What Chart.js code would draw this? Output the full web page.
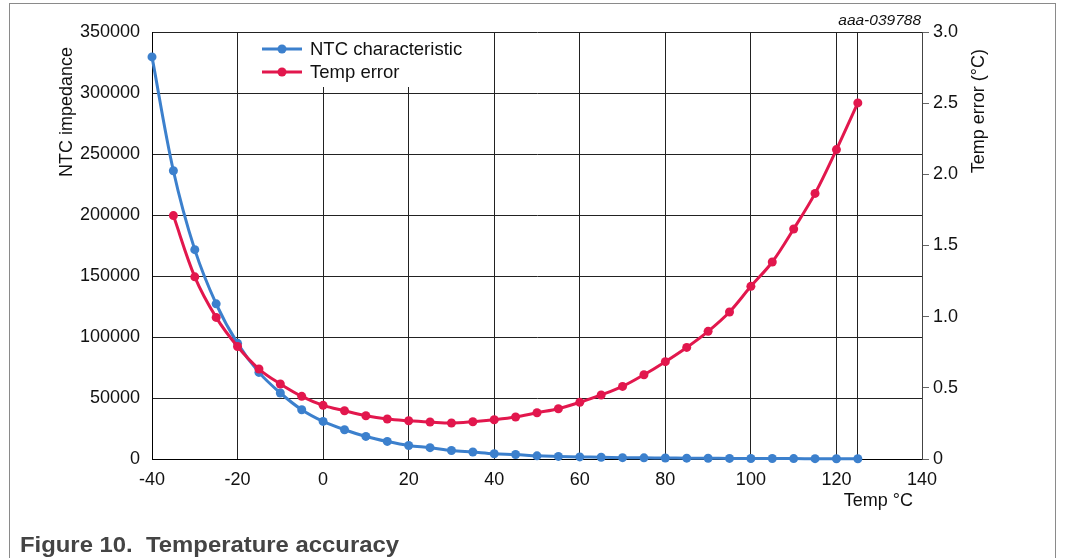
<!DOCTYPE html>
<html>
<head>
<meta charset="utf-8">
<script src="https://cdn.jsdelivr.net/npm/chart.js@4/dist/chart.umd.min.js"></script>
<style>
html,body{margin:0;padding:0;background:#fff;}
#wrap{position:relative;width:1066px;height:558px;overflow:hidden;background:#fff;}
#frame{position:absolute;left:9px;top:3px;width:1047px;height:620px;border:1px solid #8a8a8a;box-sizing:border-box;}
canvas{position:absolute;left:0;top:0;}
#cap{position:absolute;left:20px;top:534px;font:bold 22px "Liberation Sans",Arial,sans-serif;line-height:22px;color:#444;white-space:pre;transform:scaleX(1.085);transform-origin:left top;}
</style>
</head>
<body>
<div id="wrap">
<div id="frame"></div>
<canvas id="c" width="1066" height="558"></canvas>
<div id="cap">Figure 10.  Temperature accuracy</div>
</div>
<script>
// ---- data ----
const temps = [-40,-35,-30,-25,-20,-15,-10,-5,0,5,10,15,20,25,30,35,40,45,50,55,60,65,70,75,80,85,90,95,100,105,110,115,120,125];
const ntcImpedance = [329600,236300,171600,127200,94800,71000,54100,40400,30800,24000,18500,14400,11100,9300,7000,5700,4300,3700,2600,2100,1700,1400,1100,950,800,680,580,500,430,370,320,280,250,220];
const tempError = [null,1.71,1.28,0.995,0.79,0.632,0.527,0.44,0.377,0.339,0.304,0.281,0.269,0.26,0.253,0.262,0.276,0.295,0.325,0.353,0.398,0.45,0.51,0.592,0.684,0.784,0.897,1.033,1.213,1.384,1.616,1.866,2.174,2.502];
const tempTicks = [-40,-20,0,20,40,60,80,100,120,140];
const impedanceTicks = [0,50000,100000,150000,200000,250000,300000,350000];
const errorTicks = ['0','0.5','1.0','1.5','2.0','2.5','3.0'];
const seriesNames = ['NTC characteristic','Temp error'];
const axisTitles = {x:'Temp °C', y:'NTC impedance', y2:'Temp error (°C)'};
const docId = 'aaa-039788';

const FONT = '"Liberation Sans", Arial, sans-serif';
Chart.defaults.font.family = FONT;
Chart.defaults.color = '#111';

const BLUE = '#3c80cd';
const RED = '#e2174d';
const GRID = '#222';

const decor = {
  id: 'decor',
  afterDraw(chart) {
    const {ctx, chartArea: a} = chart;
    ctx.save();
    // legend box
    const lx = a.left + 98, ly = a.top + 1, lw = 225, lh = 54;
    ctx.fillStyle = '#fff';
    ctx.fillRect(lx, ly, lw, lh);
    chart.data.datasets.forEach((ds, i) => {
      const y = a.top + 17 + i * 23;
      ctx.strokeStyle = ds.borderColor;
      ctx.lineWidth = 3;
      ctx.beginPath(); ctx.moveTo(lx + 12, y); ctx.lineTo(lx + 52, y); ctx.stroke();
      ctx.fillStyle = ds.borderColor;
      ctx.beginPath(); ctx.arc(lx + 32, y, 4.5, 0, Math.PI * 2); ctx.fill();
      ctx.fillStyle = '#111';
      ctx.font = '18.5px ' + FONT;
      ctx.textAlign = 'left'; ctx.textBaseline = 'middle';
      ctx.fillText(ds.label, lx + 60, y + 1);
    });
    ctx.fillStyle = '#111';
    ctx.font = '18px ' + FONT;
    ctx.textBaseline = 'middle';
    // left title
    ctx.save();
    ctx.translate(a.left - 85, a.top + 15);
    ctx.rotate(-Math.PI / 2);
    ctx.textAlign = 'right';
    ctx.fillText(axisTitles.y, 0, 0);
    ctx.restore();
    // right title
    ctx.save();
    ctx.translate(a.right + 57, a.top + 17);
    ctx.rotate(-Math.PI / 2);
    ctx.textAlign = 'right';
    ctx.fillText(axisTitles.y2, 0, 0);
    ctx.restore();
    // x title
    ctx.textAlign = 'right';
    ctx.fillText(axisTitles.x, a.right - 9, a.bottom + 42);
    // doc id
    ctx.font = 'italic 15.5px ' + FONT;
    ctx.fillText(docId, a.right - 1, a.top - 11);
    ctx.restore();
  }
};

new Chart(document.getElementById('c'), {
  type: 'line',
  data: {
    datasets: [
      {
        label: seriesNames[0],
        data: temps.map((t, i) => ({x: t, y: ntcImpedance[i]})),
        yAxisID: 'y',
        borderColor: BLUE, backgroundColor: BLUE,
        pointBackgroundColor: BLUE, pointBorderWidth: 0,
        borderWidth: 3, pointRadius: 4.5, tension: 0.35, clip: false, order: 2
      },
      {
        label: seriesNames[1],
        data: temps.map((t, i) => ({x: t, y: tempError[i]})),
        yAxisID: 'y2',
        borderColor: RED, backgroundColor: RED,
        pointBackgroundColor: RED, pointBorderWidth: 0,
        borderWidth: 3, pointRadius: 4.5, tension: 0.35, clip: false, order: 1
      }
    ]
  },
  options: {
    responsive: false,
    animation: false,
    devicePixelRatio: 1,
    layout: {padding: {top: 32, left: 0, right: 0, bottom: 0}},
    plugins: {legend: {display: false}, tooltip: {enabled: false}},
    scales: {
      x: {
        type: 'linear', min: -40, max: 140,
        afterBuildTicks: (s) => {
          const vals = tempTicks.concat([temps[temps.length - 1]]).sort((a, b) => a - b);
          s.ticks = vals.map(v => ({value: v}));
        },
        afterFit: (s) => { s.height = 99; },
        grid: {color: GRID, lineWidth: 1, drawTicks: false},
        border: {color: '#000', width: 1},
        ticks: {
          font: {size: 18}, color: '#111', padding: 10, maxRotation: 0, autoSkip: false,
          callback: (v) => tempTicks.includes(v) ? String(v) : ''
        }
      },
      y: {
        position: 'left', min: 0, max: 350000,
        afterBuildTicks: (s) => { s.ticks = impedanceTicks.map(v => ({value: v})); },
        afterFit: (s) => { s.width = 152; },
        grid: {color: GRID, lineWidth: 1, drawTicks: false},
        border: {color: '#000', width: 1},
        ticks: {font: {size: 18}, color: '#111', padding: 12, callback: (v) => String(v)}
      },
      y2: {
        position: 'right', min: 0, max: 3,
        afterBuildTicks: (s) => { s.ticks = errorTicks.map(v => ({value: parseFloat(v)})); },
        afterFit: (s) => { s.width = 144; },
        grid: {drawOnChartArea: false, drawTicks: true, tickLength: 7, tickColor: '#666'},
        border: {color: '#444', width: 1},
        ticks: {font: {size: 18}, color: '#111', padding: 4, callback: (v, i) => errorTicks[i]}
      }
    }
  },
  plugins: [decor]
});
</script>
</body>
</html>
